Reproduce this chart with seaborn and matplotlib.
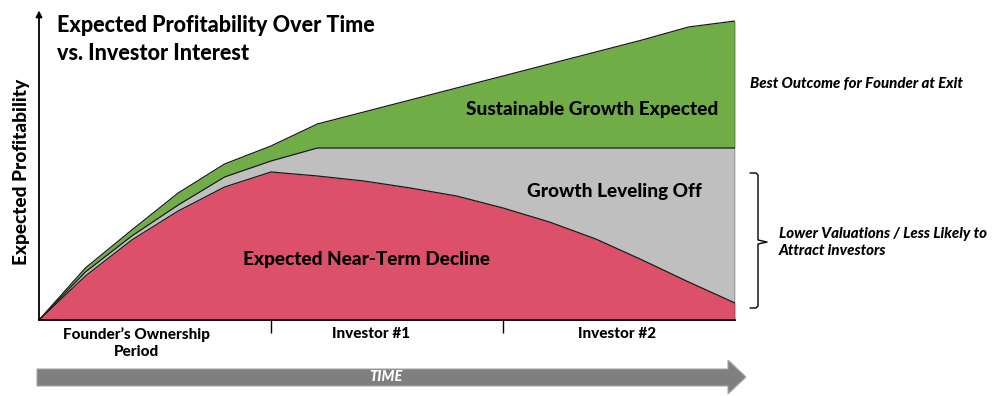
import matplotlib
matplotlib.use("Agg")
import matplotlib.pyplot as plt
import matplotlib.transforms as mtransforms
from matplotlib.patches import Polygon
from matplotlib.lines import Line2D
import numpy as np
import pandas as pd
import seaborn as sns

# ---- data ----
time_steps = list(range(16))
near_term_decline = [0, 44, 80, 109, 133, 148, 144, 139, 132, 124, 112, 98, 81, 60, 38, 17]
growth_leveling = [0, 48, 84, 115, 143, 159, 172, 172, 172, 172, 172, 172, 172, 172, 172, 172]
sustainable_growth = [0, 52, 90, 127, 156, 174, 196, 208, 220, 232, 244, 256, 268, 280, 293, 299]
period_ticks = [5, 10]
period_labels = ["Founder\u2019s Ownership\nPeriod", "Investor #1", "Investor #2"]
period_label_x = [2.1, 7.15, 12.45]
area_labels = ["Sustainable Growth Expected", "Growth Leveling Off", "Expected Near-Term Decline"]

RED = "#DC5069"
GRAY = "#BFBFBF"
GREEN = "#70AD47"

sns.set_theme(style="white")
plt.rcParams["font.family"] = ["Lato", "DejaVu Sans"]
plt.rcParams["text.color"] = "black"

fig = plt.figure(figsize=(10, 3.96), dpi=100)
W, H = 1000, 396
# pixel -> figure transform (origin top-left)
pix = mtransforms.Affine2D().scale(1 / W, -1 / H).translate(0, 1) + fig.transFigure

ax = fig.add_axes([39 / W, (H - 320) / H, (735 - 39) / W, (320 - 12) / H])
ax.set_xlim(0, 15)
ax.set_ylim(0, 308)

df = pd.DataFrame({"t": time_steps, "red": near_term_decline,
                   "gray": growth_leveling, "green": sustainable_growth})

ax.fill_between(df["t"], df["gray"], df["green"], color=GREEN, lw=0)
ax.fill_between(df["t"], df["red"], df["gray"], color=GRAY, lw=0)
ax.fill_between(df["t"], 0, df["red"], color=RED, lw=0)
for col in ["green", "gray", "red"]:
    sns.lineplot(data=df, x="t", y=col, ax=ax, color="#1a1a1a", lw=0.9, legend=False)
ax.vlines(time_steps[-1], 0, sustainable_growth[-1], color="#1a1a1a", lw=1.0)

# axes styling
for s in ["top", "right", "left"]:
    ax.spines[s].set_visible(False)
ax.spines["bottom"].set_color("black")
ax.spines["bottom"].set_linewidth(1.3)
ax.annotate("", xy=(0, 1.005), xytext=(0, 0), xycoords="axes fraction",
            arrowprops=dict(arrowstyle="-|>", color="black", lw=1.3,
                            mutation_scale=9, shrinkA=0, shrinkB=0))
ax.set_xticks(period_ticks)
ax.set_xticklabels([])
ax.set_yticks([])
ax.tick_params(axis="x", direction="out", length=9.5, width=1.0, color="black", bottom=True)
ax.set_xlabel("")
ax.set_ylabel("")

BOLD = 900

# period labels
blend = mtransforms.blended_transform_factory(ax.transData, pix)
for lx, lab in zip(period_label_x, period_labels):
    ax.text(lx, 327, lab, transform=blend, ha="center", va="top",
            fontsize=11, fontweight=BOLD, linespacing=1.25, color="black")

# area labels
ax.text(11.92, 210, area_labels[0], ha="center", va="center", fontsize=13.7, fontweight=BOLD)
ax.text(12.4, 128, area_labels[1], ha="center", va="center", fontsize=13.7, fontweight=BOLD)
ax.text(7.05, 60, area_labels[2], ha="center", va="center", fontsize=13.7, fontweight=BOLD)

# title & y label
fig.text(57, 32, "Expected Profitability Over Time", transform=pix, ha="left",
         va="baseline", fontsize=15.5, fontweight=BOLD)
fig.text(57, 60, "vs. Investor Interest", transform=pix, ha="left",
         va="baseline", fontsize=15.5, fontweight=BOLD)
fig.text(22, 172, "Expected Profitability", transform=pix, rotation=90,
         ha="center", va="center", fontsize=13.7, fontweight=BOLD)

# right annotations
fig.text(750, 84, "Best Outcome for Founder at Exit", transform=pix, ha="left",
         va="center", fontsize=10.8, fontweight=BOLD, style="italic")
fig.text(779, 234, "Lower Valuations / Less Likely to", transform=pix, ha="left",
         va="center", fontsize=10.8, fontweight=BOLD, style="italic")
fig.text(779, 251, "Attract investors", transform=pix, ha="left",
         va="center", fontsize=10.8, fontweight=BOLD, style="italic")
brace = Line2D([750, 756, 758, 758, 767, 758, 758, 756, 750],
               [173, 173, 175, 240, 242, 244, 306, 308, 308],
               transform=pix, color="black", lw=1.0)
fig.add_artist(brace)

# time arrow
arrow = Polygon([[37, 369], [728, 369], [728, 360], [746, 377], [728, 394],
                 [728, 386], [37, 386]], closed=True, transform=pix,
                facecolor="#7F7F7F", edgecolor="#A6A6A6", lw=0.8)
fig.add_artist(arrow)
fig.text(386, 377, "TIME", transform=pix, ha="center", va="center",
         fontsize=10.5, fontweight=BOLD, style="italic", color="white")

fig.savefig("out.png", dpi=100)
